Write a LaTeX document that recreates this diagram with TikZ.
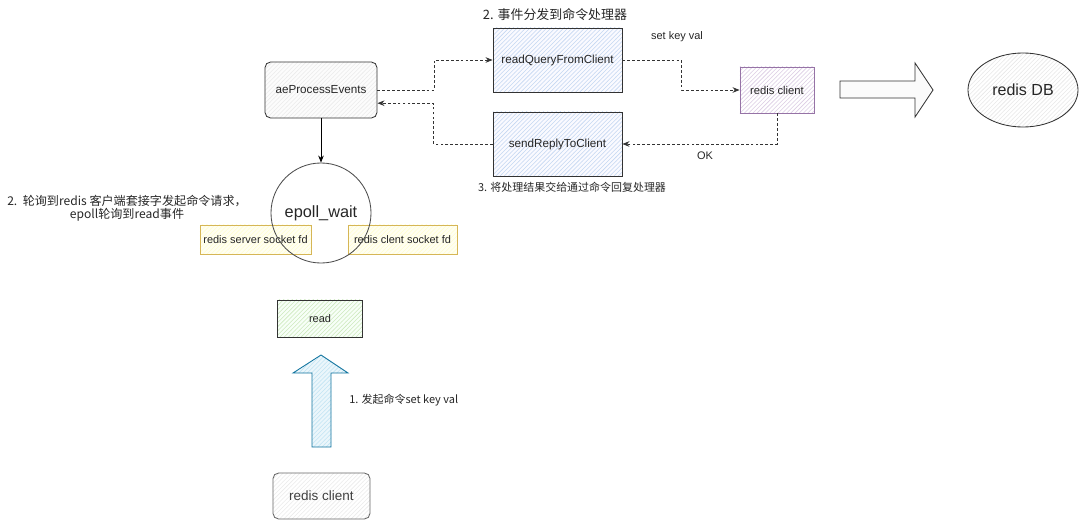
\documentclass[tikz,border=0pt]{standalone}
\usepackage{fontspec}
\setmainfont{Liberation Sans}
\newfontfamily\cjk{Noto Sans CJK SC}
\usetikzlibrary{arrows.meta,patterns,shapes.geometric}
\definecolor{inkline}{HTML}{333333}
\definecolor{bluehatch}{HTML}{C4D7F2}
\definecolor{purpleline}{HTML}{9673A6}
\definecolor{purplehatch}{HTML}{DCCDE4}
\definecolor{yellowline}{HTML}{D6B656}
\definecolor{greenhatch}{HTML}{CDE9BD}
\definecolor{arrowblue}{HTML}{10739E}
\definecolor{arrowfill}{HTML}{B1DDF0}
\begin{document}
\begin{tikzpicture}[x=0.025cm, y=-0.025cm,
  every node/.style={text=black!85},
  box/.style={draw=inkline, line width=0.6pt, inner sep=0pt, font=\fontsize{8.3}{10}\selectfont},
  hatch/.style 2 args={preaction={fill=#1}, pattern=north east lines, pattern color=#2},
  small/.style={font=\fontsize{7.8}{9.5}\selectfont},
  flow/.style={draw=inkline, line width=0.6pt, dash pattern=on 2pt off 1.5pt,
    -{Stealth[length=5pt,width=4pt]}}]
  \useasboundingbox (0,0) rectangle (1080,520);
  % event loop and the two handlers
  \node[box, rounded corners=4pt, hatch={black!1}{black!8},
    minimum width=2.8cm, minimum height=1.4cm] (ae) at (321,90) {aeProcessEvents};
  \node[box, hatch={blue!2}{bluehatch}, minimum width=3.225cm, minimum height=1.6cm]
    (rq) at (557.5,60) {readQueryFromClient};
  \node[box, hatch={blue!2}{bluehatch}, minimum width=3.225cm, minimum height=1.6cm]
    (sr) at (557.5,144) {sendReplyToClient};
  \node[box, draw=purpleline, hatch={white}{purplehatch}, font=\fontsize{8}{10}\selectfont,
    minimum width=1.85cm, minimum height=1.15cm] (rc) at (777,90) {redis client};
  \node[box, ellipse, hatch={white}{black!9}, font=\fontsize{11.4}{13}\selectfont,
    minimum width=2.75cm, minimum height=1.85cm] (db) at (1023,90) {redis DB};
  \draw[draw=inkline, line width=0.6pt, fill=yellow!3!black!2]
    (840,81) -- (915,81) -- (915,63) -- (933,90) -- (915,117) -- (915,98) -- (840,98) -- cycle;
  % epoll and sockets
  \node[box, small, draw=yellowline, hatch={yellow!5}{yellow!18},
    minimum width=2.775cm, minimum height=0.725cm] (sfd) at (255.5,239.5) {redis server socket fd};
  \node[box, small, draw=yellowline, hatch={yellow!5}{yellow!18},
    minimum width=2.725cm, minimum height=0.725cm] (cfd) at (402.5,239.5) {redis clent socket fd};
  \node[box, circle, draw=black!70, font=\fontsize{11.6}{13}\selectfont,
    minimum size=2.5cm] (ep) at (321,213) {epoll\_wait};
  \node[box, hatch={green!3}{greenhatch}, font=\fontsize{7.8}{9.5}\selectfont,
    minimum width=2.125cm, minimum height=0.925cm] (rd) at (320,318.5) {read};
  \node[box, draw=black!60, rounded corners=4pt, hatch={white}{black!8},
    font=\fontsize{9.6}{11}\selectfont, text=black!75,
    minimum width=2.425cm, minimum height=1.15cm] (cli) at (321.5,496) {redis client};
  \draw[draw=arrowblue, line width=0.6pt, hatch={arrowfill!25}{arrowfill!80}]
    (312,447) -- (312,373) -- (293,373) -- (321,355) -- (348,373) -- (331,373) -- (331,447) -- cycle;
  % connectors
  \draw[flow] (ae.east) -- ++(57,0) |- (rq.west);
  \draw[flow] (rq.east) -- ++(59,0) |- (rc.west);
  \draw[flow] (rc.south) |- (sr.east);
  \draw[flow] (sr.west) -- ++(-59,0) |- ([yshift=-0.33cm]ae.east);
  \draw[draw=black, line width=0.6pt, -{Stealth[length=5pt,width=4pt]}] (ae.south) -- (ep.north);
  % labels
  \node[font=\cjk\fontsize{9.2}{11}\selectfont] (lbDispatch) at (555,15) {2. 事件分发到命令处理器};
  \node[font=\cjk\fontsize{7.8}{9.5}\selectfont] (lbReply) at (572,187) {3. 将处理结果交给通过命令回复处理器};
  \node[small] (lbSet) at (677,37) {set key val};
  \node[small] (lbOk) at (705,156) {OK};
  \node[font=\cjk\fontsize{8.6}{9}\selectfont, align=center] (lbPoll) at (127,208)
    {2.\ \ 轮询到redis 客户端套接字发起命令请求，\\epoll轮询到read事件};
  \node[font=\cjk\fontsize{7.8}{9.5}\selectfont, anchor=west, inner sep=0pt] (lbSend) at (349,400)
    {1. 发起命令set key val};
\end{tikzpicture}
\end{document}
